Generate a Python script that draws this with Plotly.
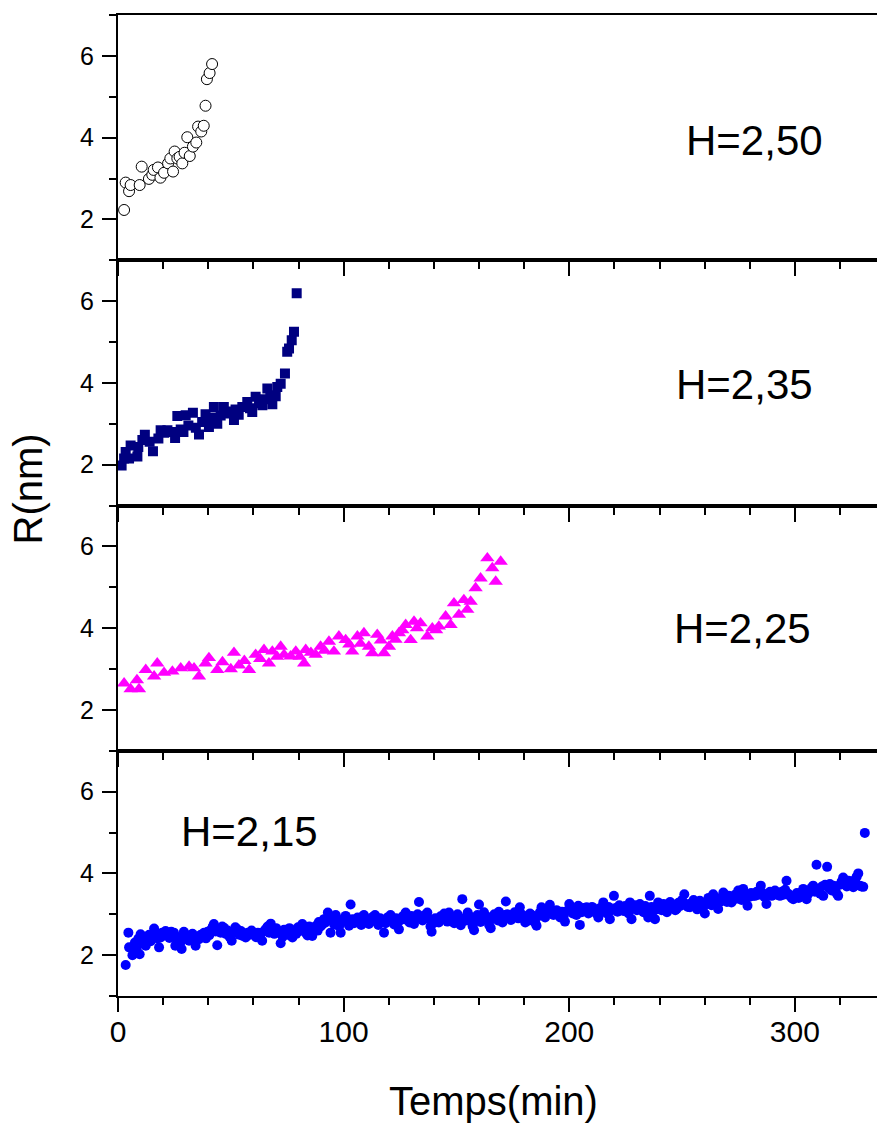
import plotly.graph_objects as go
from plotly.subplots import make_subplots

# ---------------- data ----------------
# H = 2,50 (open circles)
x250 = [2.7, 3.4, 4.9, 5.6, 9.6, 10.5, 13.7, 15.2, 15.8, 17.7, 18.8, 20.4, 22.2, 23.2, 24.4,
        25.1, 26.3, 27.3, 28.5, 29.5, 30.7, 31.8, 33.2, 34.7, 35.5, 36.9, 38.0, 38.8, 39.4,
        40.6, 41.7]
y250 = [2.23, 2.90, 2.69, 2.84, 2.84, 3.29, 2.99, 3.09, 3.21, 3.27, 3.02, 3.14, 3.37, 3.49, 3.17,
        3.66, 3.49, 3.53, 3.37, 3.63, 4.01, 3.55, 3.78, 3.88, 4.27, 4.15, 4.29, 4.78, 5.43,
        5.58, 5.80]

# H = 2,35 (navy squares)
x235 = [1.6, 2.7, 3.4, 4.9, 5.6, 8.6, 9.0, 10.8, 11.9, 14.0, 15.5, 17.9, 18.9, 20.5, 21.9,
        23.5, 25.3, 26.3, 27.8, 29.0, 30.0, 31.2, 33.2, 34.5, 35.9, 37.3, 38.8, 40.3, 41.5,
        42.5, 44.0, 45.5, 46.9, 48.4, 50.0, 51.4, 52.1, 53.5, 55.1, 57.3, 58.5, 59.5, 61.0,
        62.5, 64.0, 65.0, 66.2, 67.5, 68.4, 69.9, 70.6, 72.1, 74.0, 75.0, 75.8, 77.0, 78.0,
        79.2]
y235 = [1.98, 2.15, 2.31, 2.15, 2.47, 2.20, 2.43, 2.60, 2.73, 2.56, 2.33, 2.64, 2.84, 2.78, 2.84,
        2.80, 2.65, 3.19, 2.86, 2.80, 3.21, 2.96, 3.27, 2.90, 2.74, 3.04, 3.23, 2.92, 3.15,
        3.41, 3.00, 3.20, 3.41, 3.25, 3.30, 3.09, 3.35, 3.22, 3.41, 3.53, 3.38, 3.29, 3.66,
        3.50, 3.45, 3.60, 3.86, 3.70, 3.48, 3.67, 3.90, 3.98, 4.23, 4.76, 4.84, 5.04, 5.25,
        6.19]

# H = 2,25 (magenta triangles)
x225 = [2.7, 5.6, 8.4, 9.3, 12.3, 16.0, 17.4, 20.4, 24.1, 27.8, 31.5, 33.7, 35.9, 38.8, 40.3,
        44.0, 46.3, 50.0, 51.4, 53.6, 56.0, 58.1, 61.0, 63.0, 64.7, 66.9, 68.4, 70.5, 72.1,
        73.6, 76.5, 78.8, 80.5, 82.5, 83.2, 85.5, 87.6, 89.8, 91.5, 93.5, 95.7, 97.9, 100.9,
        102.5, 103.8, 106.1, 107.5, 109.0, 111.2, 112.7, 114.9, 116.5, 117.9, 120.1, 121.6,
        123.0, 124.5, 126.0, 127.5, 129.7, 131.2, 132.5, 134.1, 137.1, 139.3, 141.0, 142.2,
        145.2, 147.4, 148.9, 151.1, 153.3, 154.8, 156.3, 158.5, 160.7, 163.7, 165.9, 167.4,
        169.6]
y225 = [2.65, 2.51, 2.73, 2.51, 2.98, 2.82, 3.14, 2.91, 2.94, 3.02, 3.06, 3.02, 2.82, 3.14, 3.27,
        2.98, 3.17, 3.00, 3.40, 3.09, 3.20, 2.98, 3.35, 3.25, 3.47, 3.14, 3.43, 3.30, 3.55,
        3.35, 3.31, 3.43, 3.30, 3.14, 3.47, 3.40, 3.35, 3.55, 3.45, 3.67, 3.43, 3.80, 3.71,
        3.60, 3.43, 3.80, 3.62, 3.88, 3.55, 3.39, 3.84, 3.70, 3.39, 3.55, 3.80, 3.72, 3.88,
        3.95, 4.08, 3.71, 4.16, 4.00, 4.12, 3.80, 4.00, 3.95, 4.04, 4.29, 4.08, 4.61, 4.33,
        4.69, 4.45, 4.65, 4.98, 5.22, 5.71, 5.47, 5.14, 5.63]

# H = 2,15 (blue circles)
x215 = [3.4, 4.6, 4.9, 6.4, 7.0, 7.5, 8.3, 9.0, 9.6, 10.0, 11.0, 11.6, 12.3, 13.0, 13.8, 14.5,
        15.2, 16.0, 16.8, 17.5, 18.2, 18.9, 19.6, 20.3, 21.1, 22.0, 22.8, 23.6, 24.3, 24.8, 25.4,
        26.2, 27.0, 27.6, 28.2, 29.2, 30.0, 30.8, 31.5, 32.3, 33.0, 33.8, 34.4, 35.2, 35.9, 36.7,
        37.5, 38.2, 39.0, 39.7, 40.5, 41.3, 42.0, 42.5, 43.3, 44.0, 44.8, 45.5, 46.2, 47.0, 47.8,
        48.6, 49.4, 50.4, 51.2, 52.0, 52.9, 53.7, 54.5, 55.3, 56.6, 57.5, 58.4, 59.2, 60.3, 61.2,
        62.0, 63.0, 63.9, 64.6, 65.4, 66.3, 67.0, 67.7, 68.5, 69.3, 70.1, 71.0, 72.1, 73.0, 73.6,
        74.3, 75.2, 76.0, 76.8, 77.3, 78.2, 79.0, 79.8, 80.5, 81.2, 81.7, 82.5, 83.2, 84.0, 84.8,
        85.5, 86.1, 87.0, 87.8, 88.5, 89.0, 89.8, 90.6, 91.3, 92.0, 93.0, 93.5, 94.2, 95.0, 95.8,
        96.5, 97.3, 98.0, 98.7, 99.5, 100.2, 100.9, 101.8, 102.4, 103.1, 103.9, 104.6, 105.3,
        106.2, 107.0, 107.8, 108.5, 109.0, 109.8, 110.5, 111.2, 112.0, 112.8, 113.9, 114.6,
        115.4, 116.2, 117.0, 117.9, 118.6, 119.4, 120.1, 120.8, 121.6, 122.4, 123.2, 124.0,
        124.5, 125.4, 126.2, 127.0, 127.5, 128.4, 129.2, 130.0, 130.6, 131.2, 132.0, 132.8,
        133.4, 134.2, 135.0, 135.8, 136.5, 137.1, 137.9, 138.5, 139.0, 139.8, 140.6, 141.4,
        142.2, 143.0, 143.8, 144.6, 145.4, 146.0, 146.7, 147.4, 148.2, 149.0, 149.8, 150.5,
        151.2, 151.9, 152.6, 153.4, 154.2, 155.0, 155.8, 156.5, 157.2, 157.8, 158.6, 159.3,
        160.0, 160.7, 161.4, 162.2, 163.0, 163.8, 164.5, 165.2, 166.0, 166.8, 167.6, 168.4,
        168.8, 169.6, 170.4, 171.2, 171.9, 172.6, 173.4, 174.2, 175.0, 175.8, 176.6, 177.4,
        178.1, 178.9, 179.7, 180.5, 181.3, 181.8, 182.6, 183.4, 184.2, 185.0, 185.5, 186.3,
        187.0, 187.7, 188.5, 189.3, 190.1, 190.8, 191.4, 192.2, 193.0, 193.6, 194.4, 195.2,
        196.0, 196.8, 197.5, 198.1, 199.0, 200.0, 200.8, 201.6, 202.4, 203.2, 204.0, 204.7,
        205.5, 206.3, 207.0, 207.7, 208.5, 209.3, 210.1, 210.9, 211.7, 212.4, 212.9, 213.7,
        214.5, 215.1, 215.9, 216.7, 217.4, 218.0, 218.8, 219.8, 220.6, 221.4, 222.2, 223.2,
        224.0, 224.8, 225.6, 226.3, 226.9, 227.6, 228.4, 229.2, 230.0, 230.6, 231.3, 232.1,
        232.9, 233.7, 234.5, 235.0, 235.7, 236.5, 237.3, 238.0, 238.7, 239.4, 240.2, 241.0,
        241.8, 242.6, 243.3, 243.9, 244.7, 245.5, 246.3, 247.0, 247.6, 248.4, 249.2, 250.0,
        251.0, 251.8, 252.6, 253.5, 254.3, 255.1, 255.9, 256.7, 257.4, 257.9, 258.7, 259.4,
        260.1, 260.9, 261.7, 262.5, 263.1, 263.8, 264.6, 265.4, 266.0, 266.8, 267.6, 268.3,
        269.1, 269.9, 270.7, 271.4, 271.9, 272.7, 273.5, 274.2, 274.9, 275.7, 276.4, 277.1,
        277.9, 278.5, 279.0, 279.8, 280.6, 281.4, 282.3, 283.1, 283.9, 284.9, 285.7, 286.5,
        287.4, 288.2, 289.0, 289.7, 290.4, 291.2, 292.0, 292.7, 293.4, 294.2, 295.0, 295.7,
        296.3, 297.1, 297.9, 298.6, 299.3, 300.1, 300.9, 301.7, 302.5, 303.2, 303.7, 304.5,
        305.2, 306.0, 306.8, 307.4, 308.1, 308.9, 309.6, 310.4, 311.2, 312.0, 312.6, 313.4,
        314.3, 315.0, 315.5, 316.3, 317.1, 317.9, 318.6, 319.2, 320.0, 320.7, 321.4, 322.2,
        323.0, 323.8, 324.6, 325.3, 325.9, 326.7, 327.4, 328.1, 328.8, 329.5, 330.3, 331.0]
y215 = [1.76, 2.55, 2.19, 2.00, 2.22, 2.31, 2.12, 2.40, 2.02, 2.51, 2.28, 2.45, 2.23, 2.39, 2.50, 2.34,
        2.47, 2.65, 2.52, 2.41, 2.19, 2.43, 2.55, 2.48, 2.59, 2.50, 2.42, 2.57, 2.49, 2.55, 2.23,
        2.36, 2.44, 2.30, 2.15, 2.57, 2.40, 2.48, 2.35, 2.42, 2.52, 2.38, 2.23, 2.45, 2.39, 2.50,
        2.46, 2.55, 2.41, 2.57, 2.49, 2.62, 2.70, 2.76, 2.58, 2.24, 2.61, 2.55, 2.70, 2.67, 2.52,
        2.60, 2.45, 2.35, 2.56, 2.68, 2.63, 2.50, 2.59, 2.47, 2.43, 2.55, 2.50, 2.60, 2.51, 2.44,
        2.55, 2.48, 2.35, 2.58, 2.63, 2.70, 2.55, 2.77, 2.61, 2.52, 2.66, 2.58, 2.29, 2.45, 2.62,
        2.59, 2.50, 2.66, 2.55, 2.43, 2.60, 2.52, 2.68, 2.59, 2.64, 2.76, 2.60, 2.55, 2.48, 2.70,
        2.62, 2.47, 2.66, 2.72, 2.60, 2.81, 2.70, 2.75, 2.88, 2.80, 3.04, 2.92, 2.55, 2.85, 2.75,
        2.98, 2.86, 2.70, 2.55, 2.82, 2.90, 2.96, 2.80, 2.72, 3.24, 2.88, 2.78, 2.81,
        2.92, 2.85, 2.74, 2.95, 2.98, 2.86, 2.80, 2.76, 2.88, 2.93, 2.98, 2.82,
        2.74, 2.90, 2.84, 2.55, 2.78, 2.92, 2.88, 2.98, 2.83, 2.75, 2.90, 2.80,
        2.63, 2.86, 2.95, 2.88, 3.04, 2.92, 2.80, 2.96, 2.85, 2.76, 2.90, 3.00,
        3.30, 2.95, 2.85, 2.92, 3.00, 3.04, 2.88, 2.70, 2.57, 2.78, 2.90, 2.85,
        2.80, 2.95, 2.88, 3.02, 2.92, 2.82, 3.04, 2.96, 2.88, 2.78, 2.92, 3.00,
        2.86, 2.73, 3.37, 2.90, 2.85, 3.04, 2.95, 2.82, 2.70, 2.61, 2.88, 2.98,
        3.24, 2.81, 2.92, 3.05, 2.96, 2.88, 2.74, 2.66, 2.90, 3.00, 2.95, 2.85,
        3.06, 2.92, 2.80, 2.98, 3.31, 3.00, 2.92, 2.86, 2.92, 3.05, 2.98, 2.90,
        3.17, 3.00, 2.92, 2.80, 2.95, 2.84, 3.02, 2.98, 2.90, 2.78, 2.72, 2.95,
        3.05, 3.17, 3.00, 2.92, 3.08, 3.12, 3.23, 3.05, 2.98, 3.04, 3.10, 3.00,
        2.92, 3.06, 2.95, 2.82, 3.08, 3.25, 3.10, 3.02, 3.12, 2.98, 3.21, 2.74,
        3.05, 3.15, 3.08, 3.17, 3.02, 3.10, 3.18, 3.06, 3.12, 3.00, 2.92, 3.15,
        3.08, 3.29, 3.12, 3.02, 3.18, 2.88, 3.10, 3.45, 3.15, 3.06, 3.22, 3.17,
        3.08, 3.20, 3.12, 3.02, 3.29, 2.88, 3.15, 3.22, 3.10, 3.18, 3.25, 3.12,
        3.05, 3.20, 3.14, 2.92, 3.45, 3.18, 3.08, 2.88, 3.12, 3.29, 3.20, 3.10,
        3.25, 3.18, 3.05, 3.21, 3.30, 3.15, 3.22, 3.10, 3.13, 3.28, 3.20, 3.35,
        3.49, 3.25, 3.18, 3.17, 3.28, 3.35, 3.22, 3.12, 3.30, 3.33, 3.25, 3.18,
        3.02, 3.28, 3.40, 3.30, 3.22, 3.49, 3.35, 3.25, 3.13, 3.30, 3.42, 3.53,
        3.38, 3.30, 3.45, 3.35, 3.29, 3.40, 3.48, 3.38, 3.58, 3.45, 3.35, 3.62,
        3.50, 3.40, 3.21, 3.42, 3.52, 3.45, 3.45, 3.55, 3.48, 3.70, 3.52, 3.42,
        3.25, 3.48, 3.55, 3.45, 3.49, 3.58, 3.48, 3.52, 3.45, 3.55, 3.48, 3.60,
        3.82, 3.50, 3.45, 3.40, 3.37, 3.45, 3.52, 3.40, 3.48, 3.55, 3.62, 3.45,
        3.37, 3.50, 3.58, 3.65, 3.70, 3.55, 4.21, 3.62, 3.50, 3.68, 3.45, 3.72,
        4.16, 3.65, 3.74, 3.58, 3.70, 3.62, 3.50, 3.45, 3.72, 3.80, 3.90, 3.75,
        3.68, 3.82, 3.78, 3.72, 3.66, 3.85, 3.92, 4.00, 3.70, 3.68, 3.67, 4.99]

panel_labels = ["H=2,50", "H=2,35", "H=2,25", "H=2,15"]
label_x = [282.3, 277.5, 277.0, 58.5]
label_y = [3.92, 3.95, 3.98, 5.02]

x_ticks = [0, 100, 200, 300]
y_ticks = [2, 4, 6]

FONT = "Liberation Sans, Arial, sans-serif"

fig = make_subplots(rows=4, cols=1, shared_xaxes=True, vertical_spacing=0)

fig.add_trace(go.Scatter(x=x250, y=y250, mode="markers",
                         marker=dict(symbol="circle", size=11, color="white",
                                     line=dict(color="black", width=1)),
                         showlegend=False), row=1, col=1)
fig.add_trace(go.Scatter(x=x235, y=y235, mode="markers",
                         marker=dict(symbol="square", size=10, color="#000080",
                                     line=dict(width=0)),
                         showlegend=False), row=2, col=1)
fig.add_trace(go.Scatter(x=x225, y=y225, mode="markers",
                         marker=dict(symbol="triangle-up", size=12.5, color="#FF00FF",
                                     line=dict(width=0)),
                         showlegend=False), row=3, col=1)
fig.add_trace(go.Scatter(x=x215, y=y215, mode="markers",
                         marker=dict(symbol="circle", size=10, color="#0000FF",
                                     line=dict(width=0)),
                         showlegend=False), row=4, col=1)

for r in range(1, 5):
    fig.update_xaxes(row=r, col=1, range=[0, 336.4], showline=True, linecolor="black",
                     linewidth=2, mirror=True, ticks="outside", ticklen=14, tickwidth=2,
                     tickcolor="black", tickvals=x_ticks, showgrid=False, zeroline=False,
                     showticklabels=(r == 4), automargin=False, ticklabelstandoff=-6,
                     tickfont=dict(family=FONT, size=30, color="black"),
                     minor=dict(dtick=20, tick0=0, ticks="outside", ticklen=7,
                                tickwidth=2, tickcolor="black", showgrid=False))
    fig.update_yaxes(row=r, col=1, range=[1, 7], showline=True, linecolor="black",
                     linewidth=2, mirror=False, ticks="outside", ticklen=14, tickwidth=2,
                     tickcolor="black", tickvals=y_ticks, showgrid=False, zeroline=False,
                     automargin=False, ticklabelstandoff=3,
                     tickfont=dict(family=FONT, size=25, color="black"),
                     minor=dict(dtick=1, tick0=0, ticks="outside", ticklen=7,
                                tickwidth=2, tickcolor="black", showgrid=False))

axis_names = ["", "2", "3", "4"]
for i, (txt, lx, ly) in enumerate(zip(panel_labels, label_x, label_y)):
    fig.add_annotation(text=txt, x=lx, y=ly, xref="x" + axis_names[i], yref="y" + axis_names[i],
                       showarrow=False, xanchor="center", yanchor="middle",
                       font=dict(family=FONT, size=42, color="black"))

fig.add_annotation(text="Temps(min)", xref="paper", yref="paper", x=0.495, y=-0.107,
                   showarrow=False, xanchor="center", yanchor="middle",
                   font=dict(family=FONT, size=40, color="black"))
fig.add_annotation(text="R(nm)", xref="paper", yref="paper", x=-0.119, y=0.517,
                   showarrow=False, xanchor="center", yanchor="middle", textangle=-90,
                   font=dict(family=FONT, size=40, color="black"))

fig.update_layout(width=877, height=1146, margin=dict(l=118, r=0, t=15, b=150),
                  paper_bgcolor="white", plot_bgcolor="white", showlegend=False)

fig.write_html("out.html", config={"displayModeBar": False},
               post_script="document.body.style.margin='0';document.body.style.padding='0';"
                           "document.body.style.overflow='hidden';")
